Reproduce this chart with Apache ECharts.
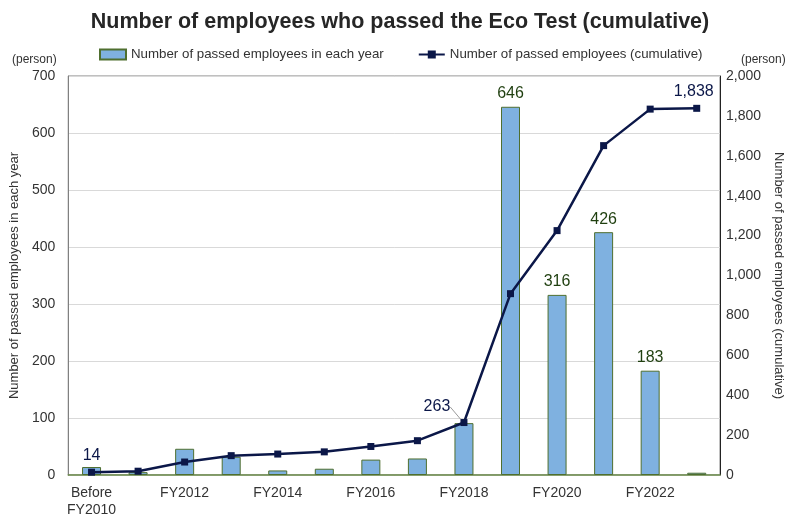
<!DOCTYPE html>
<html><head><meta charset="utf-8">
<script src="https://cdn.jsdelivr.net/npm/echarts@6/dist/echarts.min.js"></script>
<style>html,body{margin:0;padding:0;background:#fff}#c{width:800px;height:523px}</style>
</head><body><div id="c"></div>
<script>
const categories = ['Before\nFY2010','FY2011','FY2012','FY2013','FY2014','FY2015','FY2016','FY2017','FY2018','FY2019','FY2020','FY2021','FY2022','FY2023'];
const yearly = [14, 5, 46, 32, 8, 11, 27, 29, 91, 646, 316, 426, 183, 4];
const cumulative = [14, 19, 65, 97, 105, 116, 143, 172, 263, 909, 1225, 1651, 1834, 1838];
const barLabelIdx = [9, 10, 11, 12];
const lineLabelIdx = [0, 8, 13];
const leftTicks = {min: 0, max: 700, interval: 100};
const rightTicks = {min: 0, max: 2000, interval: 200};

const font = 'Liberation Sans, Arial, sans-serif';
const fmt = v => v.toLocaleString('en-US');
const chart = echarts.init(document.getElementById('c'));
chart.setOption({
  animation: false,
  textStyle: {fontFamily: font},
  title: {text: 'Number of employees who passed the Eco Test (cumulative)', left: 'center', top: 6,
    textStyle: {fontSize: 21.5, fontWeight: 'bold', color: '#262626', fontFamily: font}},
  legend: {top: 43, left: 94, itemGap: 34, itemWidth: 26, itemHeight: 10,
    textStyle: {fontSize: 13.3, color: '#333', fontFamily: font},
    data: [{name: 'Number of passed employees in each year', icon: 'rect'},
           {name: 'Number of passed employees (cumulative)'}]},
  grid: {left: 68, right: 80, top: 76, bottom: 48, show: true, borderColor: '#808080', borderWidth: 1},
  xAxis: {type: 'category', data: categories,
    axisLine: {lineStyle: {color: '#6b8a4a', width: 1.5}}, axisTick: {show: false},
    axisLabel: {interval: 1, fontSize: 14, color: '#333', margin: 10, lineHeight: 17}},
  yAxis: [
    {type: 'value', ...leftTicks, position: 'left',
     name: 'Number of passed employees in each year', nameLocation: 'middle', nameGap: 44,
     nameTextStyle: {fontSize: 13, color: '#333'},
     axisLine: {show: true, lineStyle: {color: '#808080'}}, axisTick: {show: false},
     axisLabel: {fontSize: 14, color: '#333', margin: 13},
     splitLine: {lineStyle: {color: '#d9d9d9'}}},
    {type: 'value', ...rightTicks, position: 'right',
     name: 'Number of passed employees (cumulative)', nameLocation: 'middle', nameGap: 51, nameRotate: -90,
     nameTextStyle: {fontSize: 13, color: '#333'},
     axisLine: {show: true, lineStyle: {color: '#222'}}, axisTick: {show: false},
     axisLabel: {fontSize: 14, color: '#333', margin: 6, formatter: fmt},
     splitLine: {show: false}}
  ],
  graphic: [
    {type: 'text', left: 12, top: 54, style: {text: '(person)', fill: '#333', font: '12px ' + font}},
    {type: 'text', left: 741, top: 54, style: {text: '(person)', fill: '#333', font: '12px ' + font}}
  ],
  series: [
    {name: 'Number of passed employees in each year', type: 'bar', yAxisIndex: 0, barWidth: 19,
     itemStyle: {color: '#7fb1e0', borderColor: '#4f6f2f', borderWidth: 1},
     data: yearly.map((v, i) => ({value: v, label: {show: barLabelIdx.includes(i)}})),
     label: {position: 'top', fontSize: 16, color: '#1f3f0f', distance: 5}},
    {name: 'Number of passed employees (cumulative)', type: 'line', yAxisIndex: 1,
     symbol: 'rect', symbolSize: 7, lineStyle: {color: '#0b1748', width: 2.5},
     itemStyle: {color: '#0b1748'},
     label: {fontSize: 16, color: '#0b1748', formatter: p => fmt(p.value)},
     labelLine: {show: false},
     labelLayout: p => p.dataIndex === 8 ? {dx: -27, dy: 0} : (p.dataIndex === 13 ? {dx: -3} : {}),
     data: cumulative.map((v, i) => {
       const o = {value: v, label: {show: lineLabelIdx.includes(i), position: 'top', distance: 5}};
       if (i === 8) { o.label = {show: true, position: 'top', distance: 4}; o.labelLine = {show: true, length2: 0, lineStyle: {color: '#999', width: 1}}; }
       return o;
     })}
  ]
});
</script></body></html>
